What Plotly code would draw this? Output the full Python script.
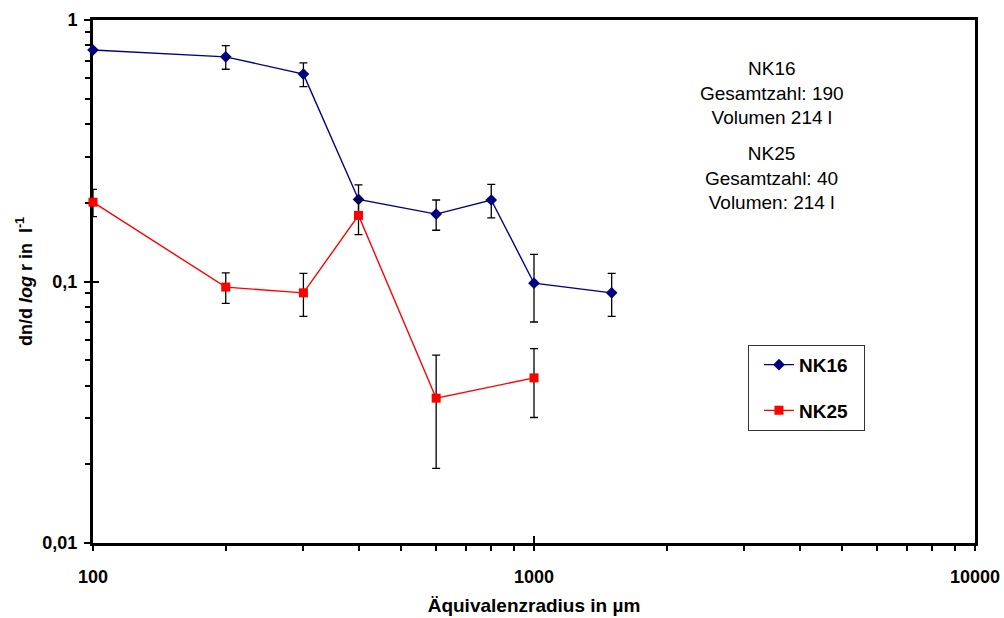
import plotly.graph_objects as go

# Particle size distributions (dn/d log r per litre) with error estimates
radius_nk16 = [100, 200, 300, 400, 600, 800, 1000, 1500]
dn_nk16 = [0.768, 0.723, 0.621, 0.206, 0.181, 0.205, 0.0985, 0.0905]
err_nk16 = [0, 0.075, 0.065, 0.028, 0.024, 0.030, 0.0285, 0.017]

radius_nk25 = [100, 200, 300, 400, 600, 1000]
dn_nk25 = [0.201, 0.0952, 0.0905, 0.179, 0.0358, 0.0428]
err_nk25 = [0.024, 0.0127, 0.017, 0.028, 0.0165, 0.0126]

x_major = [100, 1000, 10000]
x_major_text = ["100", "1000", "10000"]
x_minor = [200, 300, 400, 500, 600, 700, 800, 900,
           2000, 3000, 4000, 5000, 6000, 7000, 8000, 9000]
y_major = [0.01, 0.1, 1]
y_major_text = ["0,01", "0,1", "1"]
y_minor = [0.02, 0.03, 0.04, 0.05, 0.06, 0.07, 0.08, 0.09,
           0.2, 0.3, 0.4, 0.5, 0.6, 0.7, 0.8, 0.9]

info_nk16 = "NK16<br>Gesamtzahl: 190<br>Volumen 214 l"
info_nk25 = "NK25<br>Gesamtzahl: 40<br>Volumen: 214 l"

FONT = "Liberation Sans, Arial, sans-serif"

fig = go.Figure()

fig.add_trace(go.Scatter(
    x=radius_nk16, y=dn_nk16, name="NK16\u00a0\u00a0", mode="lines+markers",
    line=dict(color="#000080", width=1.4),
    marker=dict(symbol="diamond", size=9, color="#000080"),
    error_y=dict(type="data", array=err_nk16, color="black",
                 thickness=1.3, width=4),
    cliponaxis=False, legendgroup="a",
))
fig.add_trace(go.Scatter(
    x=radius_nk25, y=dn_nk25, name="NK25\u00a0\u00a0", mode="lines+markers",
    line=dict(color="#FF0000", width=1.4),
    marker=dict(symbol="square", size=9, color="#FF0000"),
    error_y=dict(type="data", array=err_nk25, color="black",
                 thickness=1.3, width=4),
    cliponaxis=False, legendgroup="b",
))
# empty trace so the overlay axes (inner halves of the major ticks) are drawn
fig.add_trace(go.Scatter(x=[], y=[], xaxis="x2", yaxis="y2",
                         showlegend=False, hoverinfo="skip"))

info_font = dict(size=19, family=FONT, color="black")

fig.update_layout(
    width=1004, height=618,
    margin=dict(l=93, r=29, t=20, b=75),
    paper_bgcolor="white", plot_bgcolor="white",
    font=dict(family=FONT, color="black"),
    showlegend=True,
    legend=dict(
        x=0.7426, y=0.379, xanchor="left", yanchor="top",
        bordercolor="#333333", borderwidth=1, bgcolor="white",
        font=dict(size=19, family=FONT, color="black", weight="bold"),
        tracegroupgap=18, indentation=10,
    ),
    xaxis=dict(
        type="log", range=[2, 4], automargin=False,
        tickvals=x_major, ticktext=x_major_text,
        ticks="outside", ticklen=5, tickwidth=1.5, tickcolor="black",
        minor=dict(tickvals=x_minor, ticks="outside", ticklen=5,
                   tickwidth=1.5, tickcolor="black", showgrid=False),
        showgrid=False, zeroline=False,
        showline=True, linewidth=3, linecolor="black", mirror=True,
        tickfont=dict(size=18, weight="bold"),
        ticklabelstandoff=10,
        title=dict(text="Äquivalenzradius in µm",
                   font=dict(size=19, weight="bold"), standoff=14),
        layer="below traces",
    ),
    yaxis=dict(
        type="log", range=[-2, 0], automargin=False,
        tickvals=y_major, ticktext=y_major_text,
        ticks="outside", ticklen=6, tickwidth=1.5, tickcolor="black",
        minor=dict(tickvals=y_minor, ticks="outside", ticklen=5,
                   tickwidth=1.5, tickcolor="black", showgrid=False),
        showgrid=False, zeroline=False,
        showline=True, linewidth=3, linecolor="black", mirror=True,
        tickfont=dict(size=18, weight="bold"),
        ticklabelstandoff=3,
        title=dict(text="dn/d <i>log</i> r in  l<sup>-1</sup>",
                   font=dict(size=18, weight="bold"), standoff=6),
        layer="below traces",
    ),
    xaxis2=dict(
        type="log", range=[2, 4], overlaying="x", anchor="y2", side="bottom",
        tickvals=x_major, ticks="inside", ticklen=7, tickwidth=1.5,
        tickcolor="black", showticklabels=False, showgrid=False,
        zeroline=False, showline=False,
    ),
    yaxis2=dict(
        type="log", range=[-2, 0], overlaying="y", anchor="x2", side="left",
        tickvals=y_major, ticks="inside", ticklen=6, tickwidth=1.5,
        tickcolor="black", showticklabels=False, showgrid=False,
        zeroline=False, showline=False,
    ),
    annotations=[
        dict(text=info_nk16, xref="paper", yref="paper",
             x=0.7695, y=0.932, xanchor="center", yanchor="top",
             showarrow=False, align="center", font=info_font),
        dict(text=info_nk25, xref="paper", yref="paper",
             x=0.7695, y=0.769, xanchor="center", yanchor="top",
             showarrow=False, align="center", font=info_font),
    ],
)

fig.write_html("out.html")
